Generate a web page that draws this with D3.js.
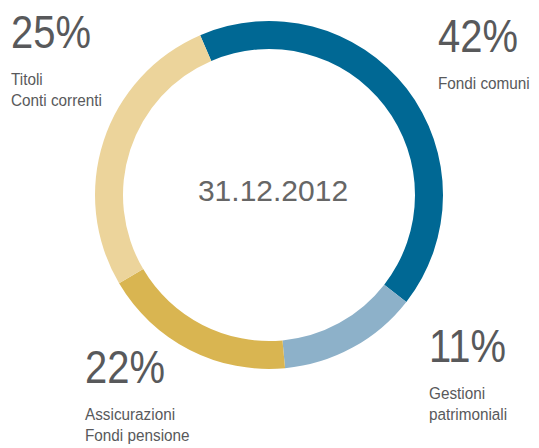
<!DOCTYPE html>
<html>
<head>
<meta charset="utf-8">
<script src="https://cdnjs.cloudflare.com/ajax/libs/d3/7.8.5/d3.min.js"></script>
<style>
  body { margin: 0; background: #fff; }
  svg { display: block; }
</style>
</head>
<body>
<div id="chart_area"></div>
<script>
// categories, in drawing order (clockwise)
var categories = ['Fondi comuni', 'Gestioni patrimoniali', 'Assicurazioni Fondi pensione', 'Titoli Conti correnti'];
var labelLines = [['Fondi comuni'], ['Gestioni', 'patrimoniali'], ['Assicurazioni', 'Fondi pensione'], ['Titoli', 'Conti correnti']];
var percentLabels = ['42%', '11%', '22%', '25%'];
// ring shares as drawn in the picture
var shares = [42, 13, 18, 27];
var colors = ['#006894', '#8db1c9', '#d9b551', '#ecd49b'];
var centerLabel = '31.12.2012';

// where each label block sits (x, baseline of the big number)
var labelPos = [[438, 52], [429, 362], [85, 383], [11, 48]];

function draw() {
    var w = 539, h = 448;
    var cx = 269, cy = 195,
        outerRadius = 174,
        innerRadius = 146,
        start = -23.3 * Math.PI / 180;

    var svg = d3.select('#chart_area').append('svg')
        .attr('width', w)
        .attr('height', h);

    var pie = d3.pie()
        .sort(null)
        .value(function(d) { return d; })
        .startAngle(start)
        .endAngle(start + 2 * Math.PI);

    var arc = d3.arc()
        .innerRadius(innerRadius)
        .outerRadius(outerRadius);

    var ring = svg.append('g')
        .attr('transform', 'translate(' + cx + ',' + cy + ')');

    ring.selectAll('path')
        .data(pie(shares))
        .enter().append('path')
            .attr('d', arc)
            .attr('fill', function(d, i) { return colors[i]; });

    //date in the middle
    ring.append('text')
        .attr('x', 4)
        .attr('y', 6)
        .attr('text-anchor', 'middle')
        .style('font-family', 'Liberation Sans, Arial, sans-serif')
        .style('font-size', '30px')
        .style('fill', '#666')
        .text(centerLabel);

    //labels
    var labels = svg.selectAll('g.lab')
        .data(categories)
        .enter().append('g')
            .attr('class', 'lab')
            .attr('transform', function(d, i) { return 'translate(' + labelPos[i][0] + ',' + labelPos[i][1] + ')'; });

    //big numbers, squeezed to look condensed
    labels.append('text')
        .attr('transform', 'scale(0.85,1)')
        .style('font-family', 'Liberation Sans, Arial, sans-serif')
        .style('font-size', '47px')
        .style('fill', '#58595b')
        .text(function(d, i) { return percentLabels[i]; });

    labels.each(function(d, i) {
        var g = d3.select(this);
        labelLines[i].forEach(function(line, j) {
            g.append('text')
                .attr('y', 37 + j * 21)
                .attr('transform', 'scale(0.9,1)')
                .style('font-family', 'Liberation Sans, Arial, sans-serif')
                .style('font-size', '17px')
                .style('fill', '#58595b')
                .text(line);
        });
    });
}

draw();
</script>
</body>
</html>
